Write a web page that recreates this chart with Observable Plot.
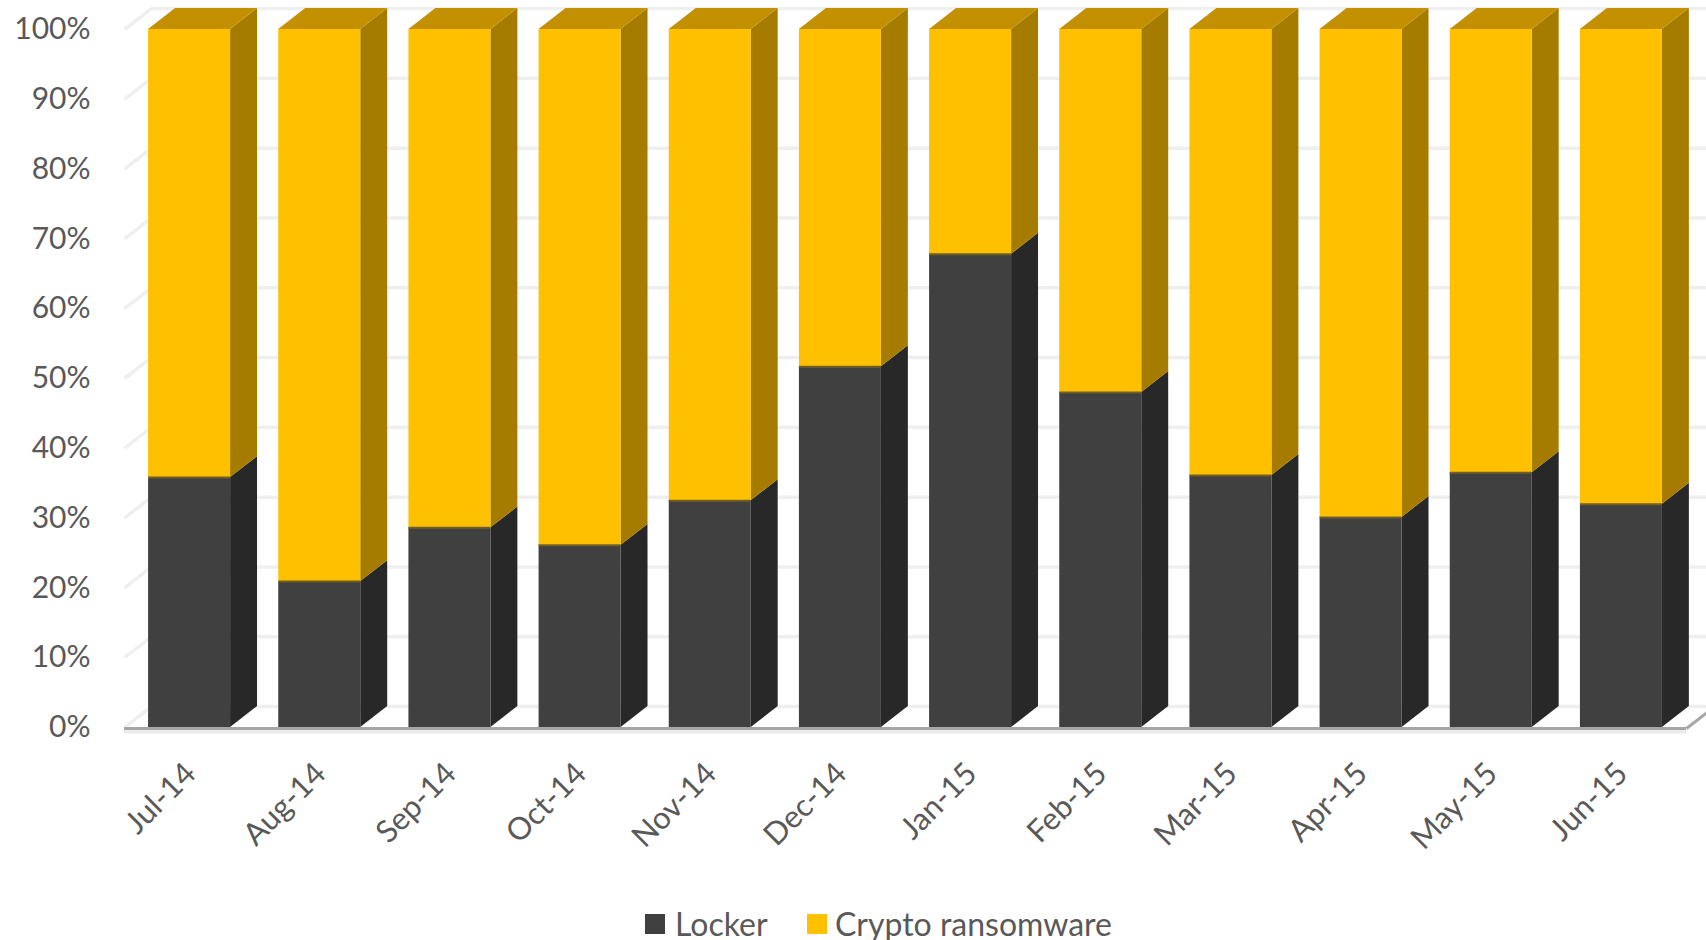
<!DOCTYPE html>
<html>
<head>
<meta charset="utf-8">
<script src="https://cdn.jsdelivr.net/npm/d3@7"></script>
<script src="https://cdn.jsdelivr.net/npm/@observablehq/plot@0.6"></script>
<style>
  html, body { margin: 0; padding: 0; background: #fff; overflow: hidden; }
  body { position: relative; width: 1706px; height: 940px; font-family: Lato, "Open Sans", sans-serif; }
  #chart svg { display: block; }
  .sw { position: absolute; top: 914px; width: 20px; height: 20px; }
  .lt { position: absolute; top: 904px; height: 40px; line-height: 40px; font-size: 32px; color: #595959; white-space: nowrap; }
</style>
</head>
<body>
<div id="chart"></div>
<div class="sw" style="left:645px;background:#404040"></div>
<div class="lt" style="left:675px">Locker</div>
<div class="sw" style="left:807px;background:#FFC000"></div>
<div class="lt" style="left:835px">Crypto ransomware</div>
<script>
const months = ["Jul-14","Aug-14","Sep-14","Oct-14","Nov-14","Dec-14","Jan-15","Feb-15","Mar-15","Apr-15","May-15","Jun-15"];
const locker = [35.8, 20.9, 28.6, 26.1, 32.5, 51.7, 67.8, 48.0, 36.1, 30.1, 36.5, 32.0];
const crypto = [64.2, 79.1, 71.4, 73.9, 67.5, 48.3, 32.2, 52.0, 63.9, 69.9, 63.5, 68.0];
const yTicks = [0, 10, 20, 30, 40, 50, 60, 70, 80, 90, 100];

// 3D geometry (in data units)
const half = 0.315, dX = 0.207, dY = 3.0;

const segs = [];
months.forEach((m, i) => {
  segs.push({i, series: "Locker", lo: 0, hi: locker[i]});
  segs.push({i, series: "Crypto", lo: locker[i], hi: locker[i] + crypto[i]});
});
const sides = segs.flatMap(s => [
  {z: s.i + s.series, series: s.series, x: s.i + half, y1: s.lo, y2: s.hi},
  {z: s.i + s.series, series: s.series, x: s.i + half + dX, y1: s.lo + dY, y2: s.hi + dY}
]);
const tops = months.flatMap((m, i) => [
  {z: i, y: locker[i] + crypto[i], x1: i - half, x2: i + half},
  {z: i, y: locker[i] + crypto[i] + dY, x1: i - half + dX, x2: i + half + dX}
]);
const L = s => s.series === "Locker";
const C = s => s.series === "Crypto";

const plot = Plot.plot({
  width: 1706,
  height: 870,
  marginTop: 29,
  marginBottom: 143,
  marginLeft: 124,
  marginRight: 20,
  style: {fontFamily: "Lato, 'Open Sans', sans-serif", fontSize: "30px", color: "#595959", background: "#fff"},
  x: {type: "linear", domain: [-0.5, 11.5], axis: null},
  y: {domain: [0, 100], axis: null},
  marks: [
    // back wall gridlines
    Plot.ruleY(yTicks, {y: d => d + dY, x1: -0.5 + dX, x2: 11.5 + dX + 0.2, stroke: "#efefef", strokeWidth: 3.5}),
    // side wall diagonals
    Plot.link(yTicks, {x1: -0.5, y1: d => d, x2: -0.5 + dX, y2: d => d + dY, stroke: "#efefef", strokeWidth: 3.5}),
    // floor
    Plot.ruleY([0], {x1: -0.5, x2: 11.5, dy: 4, stroke: "#ececec", strokeWidth: 4}),
    Plot.ruleY([0], {x1: -0.5, x2: 11.5, dy: 1, stroke: "#a6a6a6", strokeWidth: 3}),
    Plot.link([0], {x1: 11.5, y1: 0, x2: 11.5 + dX, y2: dY, dy: 1, stroke: "#a6a6a6", strokeWidth: 3}),
    // bar side faces
    Plot.areaY(sides.filter(L), {x: "x", y1: "y1", y2: "y2", z: "z", fill: "#282828"}),
    Plot.areaY(sides.filter(C), {x: "x", y1: "y1", y2: "y2", z: "z", fill: "#A67C00"}),
    // bar top faces
    Plot.areaX(tops, {y: "y", x1: "x1", x2: "x2", z: "z", fill: "#C29000"}),
    // bar front faces
    Plot.rect(segs.filter(L), {x1: d => d.i - half, x2: d => d.i + half, y1: "lo", y2: "hi", fill: "#404040"}),
    Plot.rect(segs.filter(C), {x1: d => d.i - half, x2: d => d.i + half, y1: "lo", y2: "hi", fill: "#FFC000"}),
    // segment boundary
    Plot.ruleY(segs.filter(L), {y: "hi", x1: d => d.i - half, x2: d => d.i + half, stroke: "#6f5e25", strokeWidth: 2}),
    // y axis labels
    Plot.axisY(yTicks, {tickSize: 0, tickPadding: 34, tickFormat: d => d + "%", fontSize: 30, fill: "#595959"}),
    // x labels
    Plot.text(months, {x: (d, i) => i, y: () => 0, text: d => d, rotate: -45, textAnchor: "end", dx: 1, dy: 41, fontSize: 31, fill: "#595959"})
  ]
});
document.getElementById("chart").appendChild(plot);
</script>
</body>
</html>
